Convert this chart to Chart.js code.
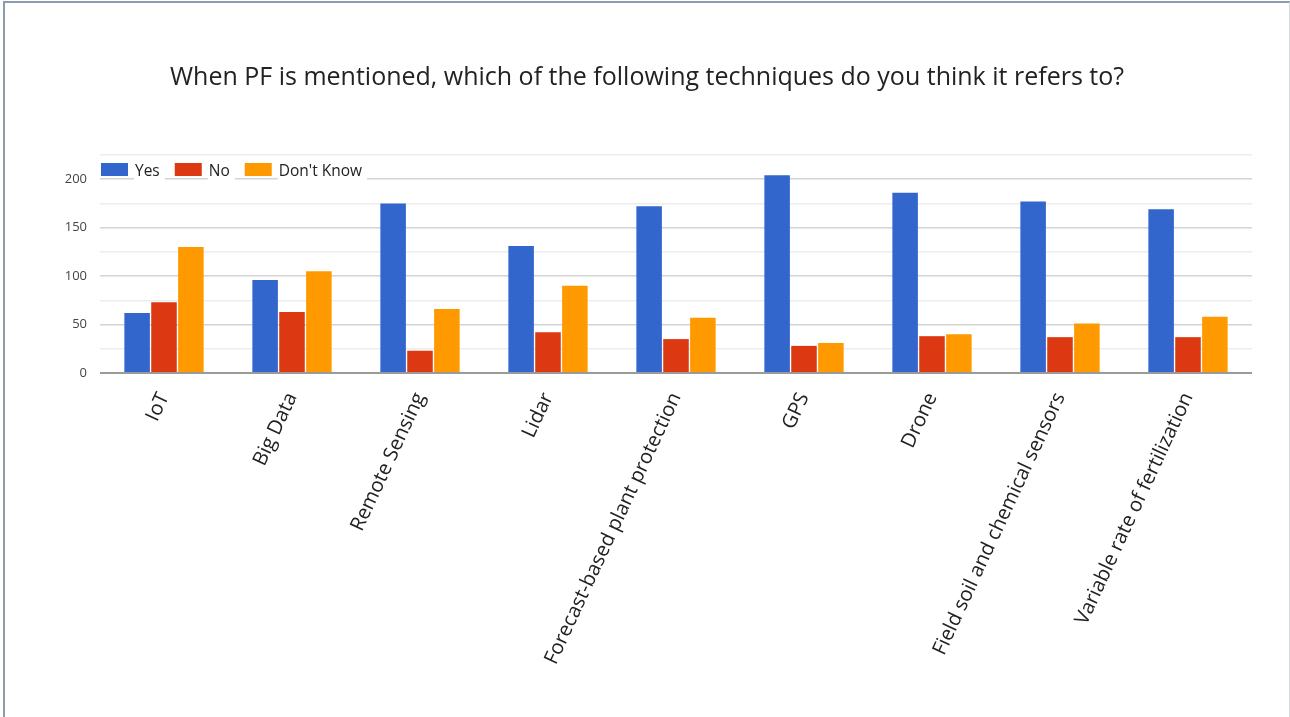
<!DOCTYPE html>
<html>
<head>
<meta charset="utf-8">
<script src="https://cdn.jsdelivr.net/npm/chart.js@4/dist/chart.umd.min.js"></script>
<style>
  html, body { margin: 0; padding: 0; background: #fff; }
  #wrap { position: relative; width: 1290px; height: 717px; overflow: hidden; }
  #c { position: absolute; left: 0; top: 0; }
  #frame {
    position: absolute; left: 3px; top: 1px; width: 1284px; height: 720px;
    border-left: 2px solid #8d9cac; border-top: 2px solid #8d9cac; border-right: 1px solid #d6dbe0;
    pointer-events: none;
  }
</style>
</head>
<body>
<div id="wrap">
  <canvas id="c" width="1290" height="717"></canvas>
  <div id="frame"></div>
</div>
<script>
const chartTitle = "When PF is mentioned, which of the following techniques do you think it refers to?";
const categories = ["IoT", "Big Data", "Remote Sensing", "Lidar", "Forecast-based plant protection", "GPS", "Drone", "Field soil and chemical sensors", "Variable rate of fertilization"];
const seriesNames = ["Yes", "No", "Don't Know"];
const yesValues = [62, 96, 175, 131, 172, 204, 186, 177, 169];
const noValues = [73, 63, 23, 42, 35, 28, 38, 37, 37];
const dontKnowValues = [130, 105, 66, 90, 57, 31, 40, 51, 58];
const yTicks = [0, 50, 100, 150, 200];
const yMax = 225;
const yStep = 25;

const colors = ["#3366cc", "#dc3912", "#ff9900"];
const FONT = "'Open Sans', 'Noto Sans', sans-serif";

const datasets = [yesValues, noValues, dontKnowValues].map((vals, i) => ({
  label: seriesNames[i],
  data: vals,
  backgroundColor: colors[i],
  borderWidth: 0,
  categoryPercentage: 0.63,
  barPercentage: 0.95
}));

// Horizontal legend drawn across the top of the plot area, over the grid
const insideLegend = {
  id: "insideLegend",
  afterDraw(chart) {
    const ctx = chart.ctx;
    const area = chart.chartArea;
    const boxW = 27, boxH = 13, gapText = 7, gapItem = 15;
    let x = area.left + 1;
    const boxTop = area.top + 8;
    const textY = boxTop + boxH / 2 + 2;
    ctx.save();
    ctx.font = "15.5px " + FONT;
    ctx.textBaseline = "middle";
    ctx.textAlign = "left";
    chart.data.datasets.forEach((ds) => {
      ctx.fillStyle = ds.backgroundColor;
      ctx.fillRect(x, boxTop, boxW, boxH);
      x += boxW + gapText;
      const w = ctx.measureText(ds.label).width;
      ctx.fillStyle = "#ffffff";
      ctx.fillRect(x - 1, boxTop - 2, w + 6, boxH + 10);
      ctx.fillStyle = "#222";
      ctx.fillText(ds.label, x, textY);
      x += w + gapItem;
    });
    ctx.restore();
  }
};

new Chart(document.getElementById("c"), {
  type: "bar",
  data: { labels: categories, datasets },
  plugins: [insideLegend],
  options: {
    responsive: false,
    animation: false,
    layout: { padding: { left: 42, right: 38, top: 0, bottom: 0 } },
    plugins: {
      title: {
        display: true,
        text: chartTitle,
        color: "#222",
        font: { family: FONT, size: 25, weight: "normal", lineHeight: 1.2 },
        padding: { top: 63, bottom: 62 }
      },
      legend: { display: false },
      tooltip: { enabled: false }
    },
    scales: {
      x: {
        grid: { display: false },
        border: { display: false },
        ticks: {
          color: "#222",
          font: { family: FONT, size: 20 },
          minRotation: 65,
          maxRotation: 65,
          autoSkip: false,
          padding: 8
        },
        afterFit: (s) => { s.height = 344; }
      },
      y: {
        min: 0,
        max: yMax,
        border: { display: false },
        grid: {
          drawTicks: false,
          color: (ctx) => ctx.tick.value === 0 ? "#9a9a9a" : (yTicks.includes(ctx.tick.value) ? "#d4d4d4" : "#ededed"),
          lineWidth: (ctx) => ctx.tick.value === 0 ? 2 : 1.5
        },
        ticks: {
          stepSize: yStep,
          color: "#444",
          padding: 13,
          font: { family: FONT, size: 13 },
          callback: (v) => yTicks.includes(v) ? String(v) : ""
        },
        afterFit: (s) => { s.width = 58; }
      }
    }
  }
});
</script>
</body>
</html>
